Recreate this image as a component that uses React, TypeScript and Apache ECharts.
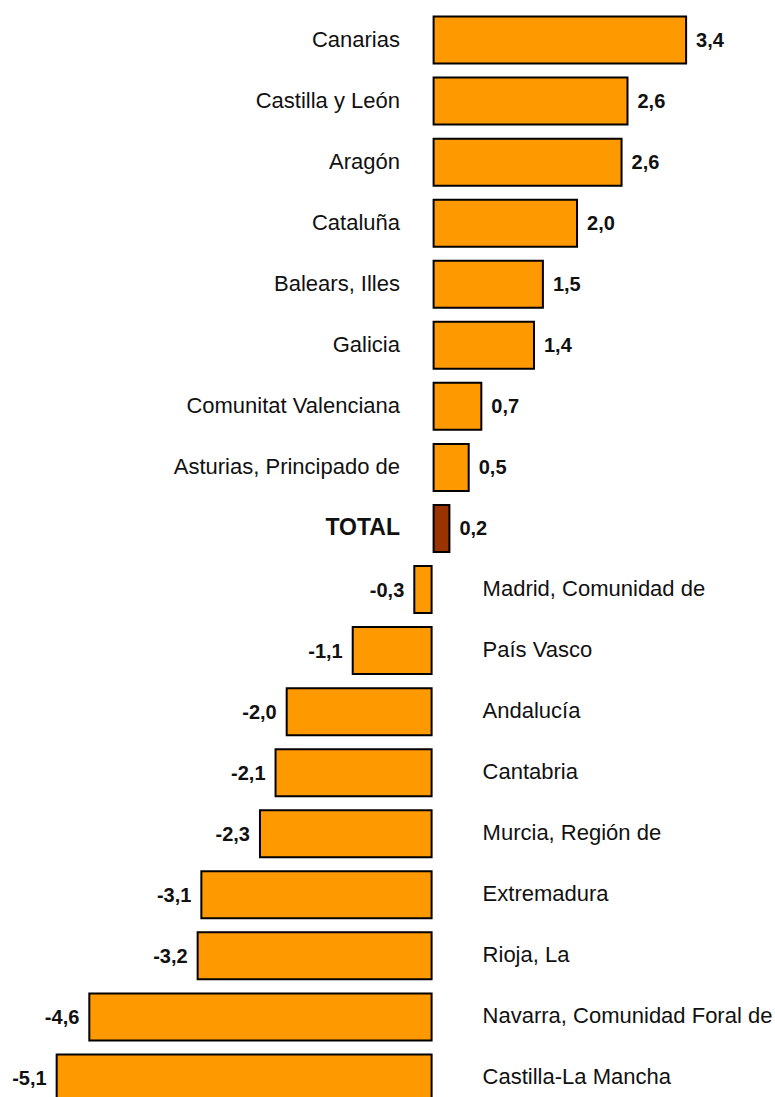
import React, { useEffect, useRef } from "react";
import * as echarts from "echarts";

const regions: string[] = [
  "Canarias",
  "Castilla y León",
  "Aragón",
  "Cataluña",
  "Balears, Illes",
  "Galicia",
  "Comunitat Valenciana",
  "Asturias, Principado de",
  "TOTAL",
  "Madrid, Comunidad de",
  "País Vasco",
  "Andalucía",
  "Cantabria",
  "Murcia, Región de",
  "Extremadura",
  "Rioja, La",
  "Navarra, Comunidad Foral de",
  "Castilla-La Mancha",
];

const values: number[] = [
  3.43, 2.64, 2.56, 1.96, 1.5, 1.38, 0.67, 0.5, 0.24, -0.26, -1.09, -1.98, -2.13, -2.34, -3.13, -3.18, -4.64, -5.08,
];

const totalName = "TOTAL";

const fmt = (v: number) => v.toFixed(1).replace(".", ",");

export default function App() {
  const ref = useRef<HTMLDivElement>(null);
  useEffect(() => {
    if (!ref.current) return;
    const chart = echarts.init(ref.current, undefined, { renderer: "svg" });
    const barData = values.map((v, i) => ({
      value: v,
      itemStyle: { color: regions[i] === totalName ? "#993300" : "#FF9900" },
      label: { position: v >= 0 ? "right" : "left" },
    }));
    chart.setOption({
      animation: false,
      backgroundColor: "#ffffff",
      grid: { left: 24.5, width: 742, top: 9.5, height: 1099 },
      xAxis: {
        type: "value",
        min: -5.5,
        max: 4.5,
        show: false,
        splitLine: { show: false },
      },
      yAxis: {
        type: "category",
        data: regions,
        inverse: true,
        show: false,
      },
      series: [
        {
          type: "bar",
          data: barData,
          barWidth: 49,
          itemStyle: { borderColor: "#000000", borderWidth: 2 },
          label: {
            show: true,
            distance: 9,
            formatter: (p: any) => fmt(p.value),
            fontFamily: "Liberation Sans, Arial, sans-serif",
            fontWeight: "bold",
            fontSize: 20,
            color: "#111111",
          },
        },
        {
          type: "custom",
          data: values.map((v, i) => [v, i]),
          encode: { x: 0, y: 1 },
          silent: true,
          renderItem: (params: any, api: any) => {
            const v = api.value(0);
            const idx = api.value(1);
            const p = api.coord([0, idx]);
            const name = regions[idx];
            const isTotal = name === totalName;
            const pos = v >= 0;
            return {
              type: "text",
              x: pos ? p[0] - 32.6 : p[0] + 50,
              y: p[1] - 1,
              style: {
                text: name,
                align: pos ? "right" : "left",
                verticalAlign: "middle",
                fontFamily: "Liberation Sans, Arial, sans-serif",
                fontSize: isTotal ? 23 : 22,
                fontWeight: isTotal ? "bold" : "normal",
                fill: "#111111",
              },
            };
          },
        },
      ],
    });
    return () => chart.dispose();
  }, []);
  return (
    <div
      style={{
        position: "absolute",
        left: 0,
        top: 0,
        width: 775,
        height: 1097,
        overflow: "hidden",
        background: "#fff",
      }}
    >
      <div ref={ref} style={{ width: 775, height: 1120 }} />
    </div>
  );
}
